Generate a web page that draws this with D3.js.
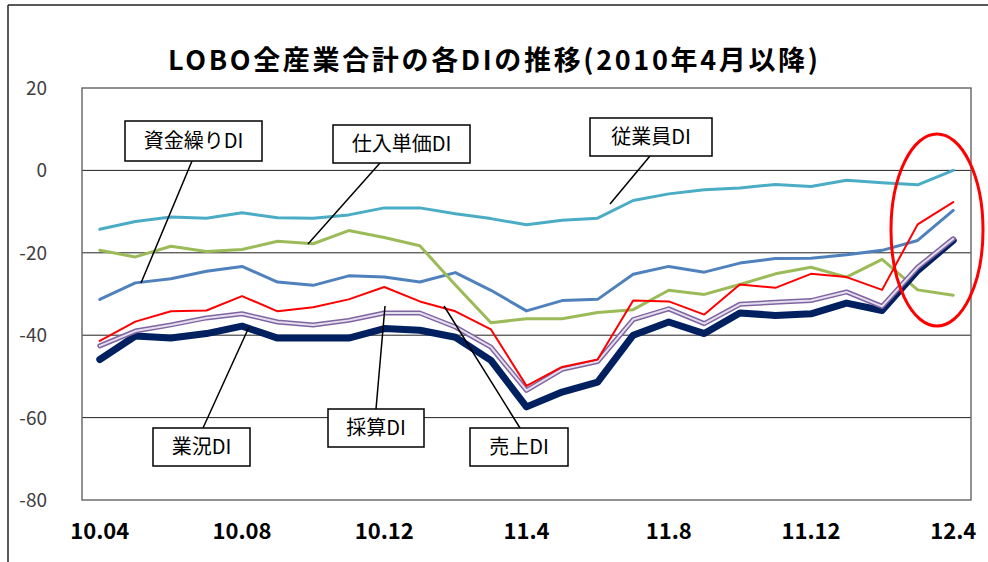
<!DOCTYPE html>
<html>
<head>
<meta charset="utf-8">
<script src="https://cdn.jsdelivr.net/npm/d3@7"></script>
<style>
  body { margin: 0; background: #fff; }
  text { font-family: "Noto Sans CJK JP", "Noto Sans", sans-serif; }
</style>
</head>
<body>
<div class="chart"></div>
<script>
// months Apr 2010 .. Apr 2012
var months = ["10.04","10.05","10.06","10.07","10.08","10.09","10.10","10.11","10.12",
  "11.01","11.02","11.03","11.04","11.05","11.06","11.07","11.08","11.09","11.10","11.11","11.12",
  "12.01","12.02","12.03","12.04"];
var tickMonths = ["10.04","10.08","10.12","11.04","11.08","11.12","12.04"];
var tickLabels = ["10.04","10.08","10.12","11.4","11.8","11.12","12.4"];
var yTicks = [20, 0, -20, -40, -60, -80];

var employees = [-14.3,-12.4,-11.3,-11.6,-10.3,-11.5,-11.6,-10.8,-9.1,-9.1,-10.5,-11.7,-13.2,-12.1,-11.6,-7.3,-5.7,-4.7,-4.3,-3.4,-3.9,-2.4,-3.0,-3.5,0];
var purchasePrice = [-19.4,-21.0,-18.4,-19.7,-19.2,-17.2,-17.8,-14.6,-16.3,-18.3,-27.8,-37.0,-36.0,-36.0,-34.5,-33.8,-29.1,-30.1,-27.7,-25.1,-23.5,-25.9,-21.6,-29.0,-30.3];
var cashFlow = [-31.3,-27.3,-26.3,-24.5,-23.3,-27.1,-27.9,-25.6,-25.9,-27.1,-24.8,-29.1,-34.1,-31.6,-31.3,-25.2,-23.3,-24.7,-22.5,-21.4,-21.3,-20.5,-19.4,-17.0,-9.7];
var business = [-45.9,-40.2,-40.7,-39.6,-37.8,-40.7,-40.7,-40.7,-38.4,-38.8,-40.5,-46.1,-57.4,-53.8,-51.4,-40.0,-36.8,-39.6,-34.6,-35.2,-34.8,-32.2,-34.0,-24.3,-17.0];
var sales = [-42.6,-39.0,-37.5,-35.8,-34.8,-36.8,-37.5,-36.4,-34.6,-34.6,-38.0,-42.9,-53.4,-48.3,-46.4,-36.2,-33.6,-37.2,-32.5,-32.0,-31.6,-29.5,-33.0,-23.5,-16.6];
var profit = [-41.4,-36.7,-34.2,-34.0,-30.5,-34.2,-33.2,-31.3,-28.3,-31.8,-34.2,-38.6,-52.3,-47.7,-45.9,-31.6,-31.8,-35.0,-27.7,-28.5,-25.1,-25.9,-29.0,-13.1,-7.7];

var W = 988, H = 562;
var plot = { left: 82, right: 971, top: 88, bottom: 500 };

const svg = d3.select(".chart").append("svg")
  .attr("width", W).attr("height", H);

// outer frame (only top and left visible)
svg.append("line").attr("x1", 8).attr("x2", W).attr("y1", 5).attr("y2", 5)
  .attr("stroke", "#222").attr("stroke-width", 1.5);
svg.append("line").attr("x1", 8).attr("x2", 8).attr("y1", 5).attr("y2", H)
  .attr("stroke", "#222").attr("stroke-width", 1.5);

var x = d3.scalePoint().domain(months).range([plot.left, plot.right]).padding(0.5);
var y = d3.scaleLinear().domain([-80, 20]).range([plot.bottom, plot.top]);

// title
svg.append("text")
  .attr("x", 493).attr("y", 70)
  .attr("text-anchor", "middle")
  .attr("font-size", 27).attr("font-weight", "bold")
  .attr("fill", "#000")
  .attr("textLength", 650).attr("lengthAdjust", "spacing")
  .text("LOBO全産業合計の各DIの推移(2010年4月以降)");

// gridlines
svg.selectAll(".grid").data([0, -20, -40, -60]).enter().append("line")
  .attr("x1", plot.left).attr("x2", plot.right)
  .attr("y1", d => y(d)).attr("y2", d => y(d))
  .attr("stroke", "#222").attr("stroke-width", 1);

// plot border
svg.append("rect")
  .attr("x", plot.left).attr("y", plot.top)
  .attr("width", plot.right - plot.left).attr("height", plot.bottom - plot.top)
  .attr("fill", "none").attr("stroke", "#6e6e6e").attr("stroke-width", 1.5);

// y labels
svg.selectAll(".ylab").data(yTicks).enter().append("text")
  .attr("x", 47).attr("y", d => y(d) + 7)
  .attr("text-anchor", "end")
  .attr("font-size", 19).attr("fill", "#404040")
  .text(d => d);

// x labels
svg.selectAll(".xlab").data(tickMonths).enter().append("text")
  .attr("x", d => x(d)).attr("y", 539)
  .attr("text-anchor", "middle")
  .attr("font-size", 22).attr("font-weight", "bold").attr("fill", "#000")
  .text((d, i) => tickLabels[i]);

var line = d3.line().x((d, i) => x(months[i])).y(d => y(d));

function drawSeries(values, color, width) {
  svg.append("path").datum(values)
    .attr("d", line)
    .attr("fill", "none")
    .attr("stroke", color)
    .attr("stroke-width", width)
    .attr("stroke-linejoin", "round")
    .attr("stroke-linecap", "round");
}

drawSeries(employees, "#4BACC6", 3);
drawSeries(cashFlow, "#4F81BD", 3);
drawSeries(purchasePrice, "#9BBB59", 3);
drawSeries(business, "#002060", 7);
drawSeries(sales, "#8064A2", 5);
drawSeries(sales, "#E4DFEC", 2);
drawSeries(profit, "#FF0000", 2);

// callouts
var callouts = [
  { label: "資金繰りDI", box: [125, 121, 137, 40], from: [192, 161], to: [141, 283] },
  { label: "仕入単価DI", box: [333, 125, 137, 38], from: [380, 163], to: [308, 244] },
  { label: "従業員DI", box: [590, 118, 122, 38], from: [650, 156], to: [610, 204] },
  { label: "業況DI", box: [153, 428, 97, 38], from: [203, 428], to: [249, 327] },
  { label: "採算DI", box: [328, 409, 96, 38], from: [376, 409], to: [385, 306] },
  { label: "売上DI", box: [470, 428, 98, 38], from: [520, 428], to: [444, 306] }
];

svg.selectAll(".leader").data(callouts).enter().append("line")
  .attr("x1", d => d.from[0]).attr("y1", d => d.from[1])
  .attr("x2", d => d.to[0]).attr("y2", d => d.to[1])
  .attr("stroke", "#000").attr("stroke-width", 1.5);

var cg = svg.selectAll(".callout").data(callouts).enter().append("g");
cg.append("rect")
  .attr("x", d => d.box[0]).attr("y", d => d.box[1])
  .attr("width", d => d.box[2]).attr("height", d => d.box[3])
  .attr("fill", "#fff").attr("stroke", "#000").attr("stroke-width", 1.5);
cg.append("text")
  .attr("x", d => d.box[0] + d.box[2] / 2)
  .attr("y", d => d.box[1] + d.box[3] / 2 + 7)
  .attr("text-anchor", "middle")
  .attr("font-size", 20).attr("fill", "#000")
  .text(d => d.label);

// red ellipse highlight
svg.append("ellipse")
  .attr("cx", 937).attr("cy", 230).attr("rx", 46).attr("ry", 96)
  .attr("fill", "none").attr("stroke", "#FF0000").attr("stroke-width", 3);
</script>
</body>
</html>
